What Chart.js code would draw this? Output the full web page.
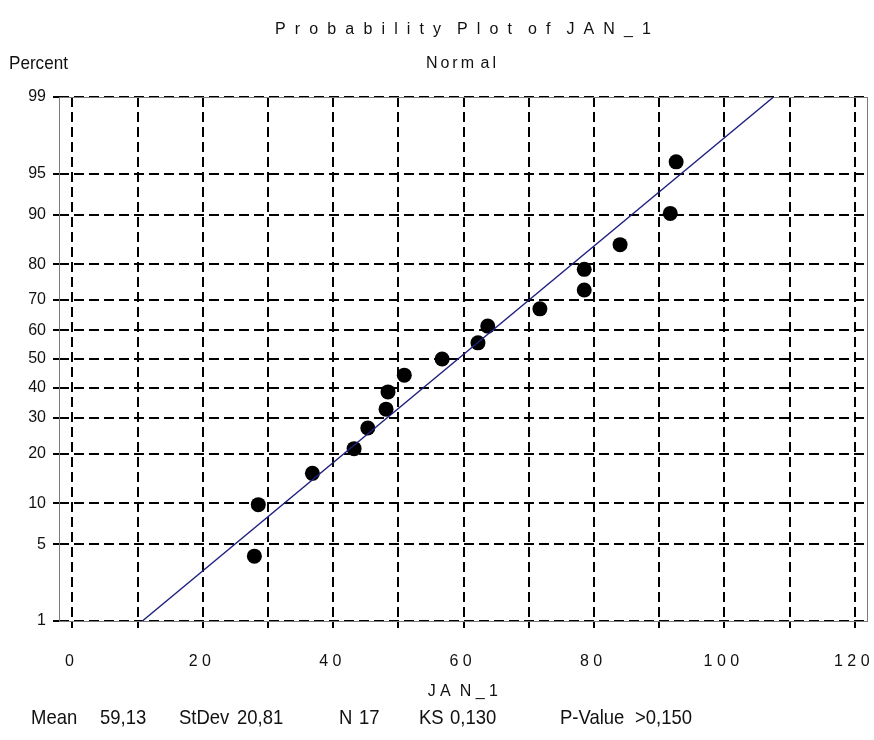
<!DOCTYPE html>
<html>
<head>
<meta charset="utf-8">
<script src="https://cdn.jsdelivr.net/npm/chart.js@4.4.1/dist/chart.umd.min.js"></script>
<style>
  html, body { margin: 0; padding: 0; background: #ffffff; }
  #wrap { width: 874px; height: 740px; }
</style>
</head>
<body>
<div id="wrap"><canvas id="probPlot" width="874" height="740"></canvas></div>
<script>
// JAN_1 sample, sorted, with its plotting position (percent)
const janValues = [27.9, 28.5, 36.8, 43.2, 45.3, 48.1, 48.4, 50.9, 56.7, 62.2, 63.7, 71.7, 78.5, 78.5, 84.0, 91.7, 92.6];
const janPercent = [4.0, 9.8, 15.5, 21.3, 27.0, 32.8, 38.5, 44.3, 50.0, 55.7, 61.5, 67.2, 73.0, 78.7, 84.5, 90.2, 96.0];

// axis ticks
const percentTicks = [1, 5, 10, 20, 30, 40, 50, 60, 70, 80, 90, 95, 99];
const xTicks = [0, 10, 20, 30, 40, 50, 60, 70, 80, 90, 100, 110, 120];
const xTickLabels = ['0', '', '2 0', '', '4 0', '', '6 0', '', '8 0', '', '1 0 0', '', '1 2 0'];

// summary line under the plot
const statLabels = ['Mean', '59,13', 'StDev', '20,81', 'N', '17', 'KS', '0,130', 'P-Value', '>0,150'];
const fitMean = 59.13;
const fitStDev = 20.81;

// inverse standard normal cdf (Acklam)
function probit(p) {
  const a = [-39.69683028665376, 220.9460984245205, -275.9285104469687, 138.3577518672690, -30.66479806614716, 2.506628277459239];
  const b = [-54.47609879822406, 161.5858368580409, -155.6989798598866, 66.80131188771972, -13.28068155288572];
  const c = [-0.007784894002430293, -0.3223964580411365, -2.400758277161838, -2.549732539343734, 4.374664141464968, 2.938163982698783];
  const d = [0.007784695709041462, 0.3224671290700398, 2.445134137142996, 3.754408661907416];
  const plow = 0.02425, phigh = 1 - plow;
  let q, r;
  if (p < plow) {
    q = Math.sqrt(-2 * Math.log(p));
    return (((((c[0]*q+c[1])*q+c[2])*q+c[3])*q+c[4])*q+c[5]) / ((((d[0]*q+d[1])*q+d[2])*q+d[3])*q+1);
  }
  if (p <= phigh) {
    q = p - 0.5; r = q * q;
    return (((((a[0]*r+a[1])*r+a[2])*r+a[3])*r+a[4])*r+a[5])*q / (((((b[0]*r+b[1])*r+b[2])*r+b[3])*r+b[4])*r+1);
  }
  q = Math.sqrt(-2 * Math.log(1 - p));
  return -(((((c[0]*q+c[1])*q+c[2])*q+c[3])*q+c[4])*q+c[5]) / ((((d[0]*q+d[1])*q+d[2])*q+d[3])*q+1);
}

const zLow = probit(0.01);
const zHigh = probit(0.99);

const points = janValues.map((v, i) => ({ x: v, y: probit(janPercent[i] / 100) }));
const fitLine = [
  { x: fitMean + fitStDev * zLow, y: zLow },
  { x: fitMean + fitStDev * zHigh, y: zHigh }
];

const sans = '"Liberation Sans", Arial, sans-serif';

// spread the characters of a string over a given width, centred on cx
function drawSpread(ctx, text, cx, y, width) {
  const chars = [...text];
  const widths = chars.map(ch => ctx.measureText(ch).width);
  const natural = widths.reduce((s, w) => s + w, 0);
  const gap = (width - natural) / (chars.length - 1);
  let x = cx - width / 2;
  ctx.textAlign = 'left';
  chars.forEach((ch, i) => {
    ctx.fillText(ch, x, y);
    x += widths[i] + gap;
  });
}

// condensed text: squeeze horizontally around the left edge
function drawNarrow(ctx, text, x, y, squeeze) {
  ctx.save();
  ctx.translate(x, y);
  ctx.scale(squeeze, 1);
  ctx.textAlign = 'left';
  ctx.fillText(text, 0, 0);
  ctx.restore();
}

// plot frame
const frame = {
  id: 'frame',
  beforeDatasetsDraw(chart) {
    const { ctx, chartArea: a } = chart;
    ctx.save();
    ctx.strokeStyle = '#7a7a7a';
    ctx.lineWidth = 1;
    ctx.strokeRect(Math.round(a.left) + 0.5, Math.round(a.top) + 0.5,
      Math.round(a.right - a.left), Math.round(a.bottom - a.top));
    ctx.restore();
  }
};

// titles and summary text
const pageText = {
  id: 'pageText',
  afterDraw(chart) {
    const ctx = chart.ctx;
    ctx.save();
    ctx.fillStyle = '#111111';
    ctx.textBaseline = 'middle';
    ctx.font = '16px ' + sans;
    drawSpread(ctx, 'P r o b a b i l i t y  P l o t  o f  J A N _ 1', 463, 30, 376);
    drawSpread(ctx, 'N o r m  a l', 461, 64, 70);
    ctx.font = '19px ' + sans;
    drawNarrow(ctx, 'Percent', 9, 64, 0.9);

    ctx.font = '21px ' + sans;
    const statX = [31, 100, 179, 237, 339, 359, 419, 450, 560, 635];
    statLabels.forEach((t, i) => drawNarrow(ctx, t, statX[i], 718, 0.88));
    ctx.restore();
  }
};

new Chart(document.getElementById('probPlot'), {
  type: 'scatter',
  data: {
    datasets: [
      {
        type: 'line',
        label: 'fit',
        data: fitLine,
        borderColor: '#1f1f80',
        borderWidth: 1.4,
        pointRadius: 0,
        fill: false,
        order: 0
      },
      {
        label: 'JAN_1',
        data: points,
        backgroundColor: '#000000',
        borderWidth: 0,
        pointRadius: 7.5,
        order: 1
      }
    ]
  },
  options: {
    responsive: false,
    animation: false,
    devicePixelRatio: 1,
    layout: { padding: { top: 97, right: 7, left: 0, bottom: 0 } },
    plugins: {
      legend: { display: false },
      tooltip: { enabled: false },
      title: { display: false }
    },
    scales: {
      x: {
        type: 'linear',
        min: -2.07,
        max: 121.8,
        afterBuildTicks: (scale) => { scale.ticks = xTicks.map(v => ({ value: v })); },
        afterFit: (scale) => {
          scale.height = 119;
          scale.paddingLeft = 0;
          scale.paddingRight = 0;
        },
        grid: {
          color: '#000000',
          lineWidth: 2,
          tickLength: 7,
          tickColor: '#000000',
          tickWidth: 2,
          tickBorderDash: [10, 5]
        },
        border: { display: false, dash: [10, 5] },
        ticks: {
          padding: 24,
          labelOffset: -3,
          color: '#111111',
          maxRotation: 0,
          autoSkip: false,
          font: { family: sans, size: 16 },
          callback: (value, index) => xTickLabels[index]
        },
        title: {
          display: true,
          text: 'J A  N _ 1',
          color: '#111111',
          font: { family: sans, size: 16 },
          padding: { top: 0, bottom: 39 }
        }
      },
      y: {
        type: 'linear',
        min: zLow,
        max: zHigh,
        afterBuildTicks: (scale) => { scale.ticks = percentTicks.map(p => ({ value: probit(p / 100) })); },
        afterFit: (scale) => { scale.width = 59; },
        grid: {
          color: '#000000',
          lineWidth: 2,
          tickLength: 6,
          tickColor: '#000000',
          tickWidth: 2,
          tickBorderDash: []
        },
        border: { display: false, dash: [10, 5] },
        ticks: {
          padding: 7,
          color: '#111111',
          autoSkip: false,
          font: { family: sans, size: 16 },
          callback: (value, index) => String(percentTicks[index])
        }
      }
    }
  },
  plugins: [frame, pageText]
});
</script>
</body>
</html>
